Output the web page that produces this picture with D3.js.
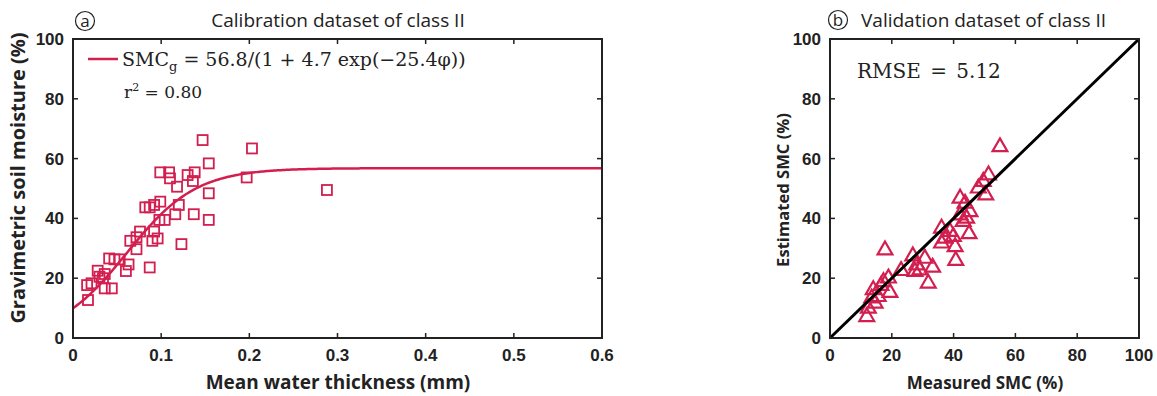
<!DOCTYPE html>
<html><head><meta charset="utf-8">
<script src="https://cdn.jsdelivr.net/npm/d3@7"></script>
<style>body{margin:0;background:#fff}svg{display:block}</style>
</head><body>
<svg id="c" width="1157" height="396"></svg>
<script>
// ---- data ----
const calX = [0.017,0.016,0.021,0.028,0.034,0.030,0.036,0.036,0.044,0.041,0.047,0.053,0.060,0.063,0.065,0.072,0.072,0.076,0.087,0.082,0.087,0.092,0.099,0.090,0.096,0.092,0.098,0.104,0.116,0.120,0.123,0.137,0.099,0.109,0.110,0.118,0.130,0.138,0.136,0.147,0.154,0.154,0.154,0.197,0.203,0.288];
const calY = [12.7,17.7,18.3,22.5,20.0,20.5,21.4,16.6,16.6,26.6,26.3,26.3,22.4,24.6,32.5,29.7,33.7,35.6,23.6,43.7,43.7,44.5,45.6,32.5,33.3,35.6,39.5,39.5,41.4,44.5,31.4,41.4,55.4,55.4,53.4,50.6,54.5,55.4,52.5,66.2,58.4,48.4,39.5,53.7,63.4,49.5];
const fitParams = [56.8, 4.7, 25.4];
const valMeasured = [55.0,51.3,49.6,48.0,50.4,42.1,43.7,45.3,42.1,44.2,43.1,45.0,36.1,38.8,37.2,39.9,36.1,40.5,40.7,17.8,26.8,30.7,28.1,33.2,23.0,27.5,29.1,31.8,18.9,17.3,19.4,14.0,15.6,13.5,14.6,12.4,11.9,16.5];
const valEstimated = [63.9,54.5,52.3,50.1,47.8,46.7,45.0,42.2,41.1,40.0,38.9,34.8,36.7,35.6,33.3,33.9,31.7,30.5,25.9,29.4,27.4,26.6,24.4,23.6,22.5,22.2,22.7,18.3,20.0,18.8,15.2,16.1,13.8,13.3,11.6,9.9,7.1,17.5];
const xTicksA = [0,0.1,0.2,0.3,0.4,0.5,0.6];
const yTicks = [0,20,40,60,80,100];

const col = "#d21f4f";
const svg = d3.select("#c");
const tickFont = "'Liberation Sans', Arial, sans-serif";
const labFont = "'Open Sans', 'Noto Sans', sans-serif";
const serif = "'DejaVu Serif', 'Liberation Serif', serif";

function frame(g, x, y, xt, yt, xfmt){
  const [x0,x1] = x.range(), [y0,y1] = y.range();
  xt.forEach(v=>{
    const px = x(v);
    g.append("line").attr("x1",px).attr("x2",px).attr("y1",y0).attr("y2",y0-5).attr("stroke","#222").attr("stroke-width",1.5);
    g.append("line").attr("x1",px).attr("x2",px).attr("y1",y1).attr("y2",y1+5).attr("stroke","#222").attr("stroke-width",1.5);
    g.append("text").attr("x",px).attr("y",y0+23).attr("text-anchor","middle")
      .attr("font-family",tickFont).attr("font-weight","bold").attr("font-size",17).attr("fill","#222").text(xfmt(v));
  });
  yt.forEach(v=>{
    const py = y(v);
    g.append("line").attr("x1",x0).attr("x2",x0+5).attr("y1",py).attr("y2",py).attr("stroke","#222").attr("stroke-width",1.5);
    g.append("line").attr("x1",x1).attr("x2",x1-5).attr("y1",py).attr("y2",py).attr("stroke","#222").attr("stroke-width",1.5);
    g.append("text").attr("x",x0-9).attr("y",py+6).attr("text-anchor","end")
      .attr("font-family",tickFont).attr("font-weight","bold").attr("font-size",17).attr("fill","#222").text(v);
  });
  g.append("rect").attr("x",x0).attr("y",y1).attr("width",x1-x0).attr("height",y0-y1)
    .attr("fill","none").attr("stroke","#222").attr("stroke-width",2);
}
function circled(g, cx, cy, letter){
  g.append("circle").attr("cx",cx).attr("cy",cy).attr("r",9.5).attr("fill","none").attr("stroke","#222").attr("stroke-width",1.2);
  g.append("text").attr("x",cx).attr("y",cy+5.5).attr("text-anchor","middle")
    .attr("font-family",labFont).attr("font-size",17).attr("fill","#222").text(letter);
}

// ---- panel a ----
const xa = d3.scaleLinear().domain([0,0.6]).range([73,602]);
const ya = d3.scaleLinear().domain([0,100]).range([338,39]);
const ga = svg.append("g");
const fit = v => fitParams[0]/(1+fitParams[1]*Math.exp(-fitParams[2]*v));
const curveX = d3.range(0,0.6001,0.002);
ga.append("path").datum(curveX)
  .attr("d", d3.line().x(d=>xa(d)).y(d=>ya(fit(d))))
  .attr("fill","none").attr("stroke",col).attr("stroke-width",2.5);
ga.selectAll("rect.pt").data(calX.map((d,i)=>[d,calY[i]])).join("rect")
  .attr("x",d=>xa(d[0])-5).attr("y",d=>ya(d[1])-5).attr("width",10).attr("height",10)
  .attr("fill","none").attr("stroke",col).attr("stroke-width",1.8);
frame(ga, xa, ya, xTicksA, yTicks, d=>d===0?"0":d3.format(".1f")(d));
circled(ga, 85, 21, "a");
ga.append("text").attr("x",338).attr("y",27).attr("text-anchor","middle")
  .attr("font-family",labFont).attr("font-size",19).attr("fill","#222").text("Calibration dataset of class II");
ga.append("text").attr("x",338).attr("y",389).attr("text-anchor","middle")
  .attr("font-family",labFont).attr("font-weight","bold").attr("font-size",19).attr("fill","#222").text("Mean water thickness (mm)");
ga.append("text").attr("transform","translate(25,178) rotate(-90)").attr("text-anchor","middle")
  .attr("font-family",labFont).attr("font-weight","bold").attr("font-size",20).attr("fill","#222").text("Gravimetric soil moisture (%)");
// legend
ga.append("line").attr("x1",88).attr("x2",118).attr("y1",59).attr("y2",59).attr("stroke",col).attr("stroke-width",2.5);
const eq = ga.append("text").attr("x",122).attr("y",66).attr("font-family",serif).attr("font-size",19).attr("fill","#222");
eq.append("tspan").text("SMC");
eq.append("tspan").attr("font-size",13).attr("dy",5).text("g");
eq.append("tspan").attr("dy",-5).text(" = 56.8/(1 + 4.7 exp(−25.4φ))");
const r2 = ga.append("text").attr("x",124).attr("y",98).attr("font-family",serif).attr("font-size",17).attr("fill","#222");
r2.append("tspan").text("r");
r2.append("tspan").attr("font-size",11).attr("dy",-7).text("2");
r2.append("tspan").attr("dy",7).text(" = 0.80");

// ---- panel b ----
const xb = d3.scaleLinear().domain([0,100]).range([830,1139]);
const yb = d3.scaleLinear().domain([0,100]).range([338,39]);
const gb = svg.append("g");
const tri = d3.symbol().type(d3.symbolTriangle).size(95);
gb.selectAll("path.pt").data(valMeasured.map((d,i)=>[d,valEstimated[i]])).join("path")
  .attr("transform",d=>`translate(${xb(d[0])},${yb(d[1])})`).attr("d",tri)
  .attr("fill","none").attr("stroke",col).attr("stroke-width",2.2);
gb.append("line").attr("x1",xb(0)).attr("y1",yb(0)).attr("x2",xb(100)).attr("y2",yb(100))
  .attr("stroke","#000").attr("stroke-width",3);
frame(gb, xb, yb, yTicks, yTicks, d=>d);
circled(gb, 838, 20, "b");
gb.append("text").attr("x",861).attr("y",27)
  .attr("font-family",labFont).attr("font-size",19).attr("fill","#222").text("Validation dataset of class II");
gb.append("text").attr("x",985).attr("y",389).attr("text-anchor","middle")
  .attr("font-family",labFont).attr("font-weight","bold").attr("font-size",17).attr("fill","#222").text("Measured SMC (%)");
gb.append("text").attr("transform","translate(789,190) rotate(-90)").attr("text-anchor","middle")
  .attr("font-family",labFont).attr("font-weight","bold").attr("font-size",16.6).attr("fill","#222").text("Estimated SMC (%)");
gb.append("text").attr("x",857).attr("y",78).attr("font-family",serif).attr("font-size",20).attr("word-spacing",3).attr("fill","#222").text("RMSE = 5.12");
</script>
</body></html>
